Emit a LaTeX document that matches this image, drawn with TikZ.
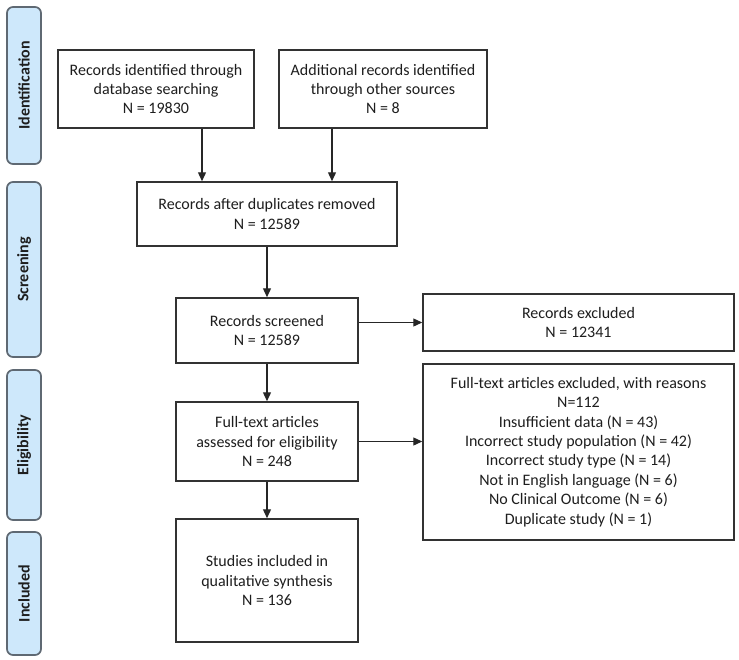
\documentclass[tikz,border=0pt]{standalone}
\usepackage{fontspec}
\setmainfont{Carlito}
\usetikzlibrary{arrows.meta}
\definecolor{phase}{RGB}{206,232,251}
\definecolor{phaseline}{RGB}{95,105,115}
\definecolor{boxline}{RGB}{50,50,50}
\definecolor{txt}{RGB}{30,30,30}
\tikzset{
  x=1pt,y=1pt,
  flowbox/.style={draw=boxline, line width=1.5pt, fill=white, align=center, inner sep=2pt,
    text=txt, font=\fontsize{16}{19.4}\selectfont},
  phasebox/.style={draw=phaseline, line width=1.7pt, fill=phase, rounded corners=6pt,
    rotate=90, minimum height=34pt, inner sep=0pt, text=txt,
    font=\fontsize{16}{18}\selectfont\bfseries},
  flowarrow/.style={draw=black!85, line width=1.3pt, -{Triangle[length=9pt,width=8pt]}}
}
\begin{document}
\begin{tikzpicture}
\useasboundingbox (0,0) rectangle (739,-659);
% phase labels
\node[phasebox, minimum width=157pt] (pid) at (24,-85.5) {Identification};
\node[phasebox, minimum width=175pt] (psc) at (24,-269.5) {Screening};
\node[phasebox, minimum width=150pt] (pel) at (24,-445) {Eligibility};
\node[phasebox, minimum width=123pt] (pin) at (24,-593.5) {Included};
% boxes
\node[flowbox, minimum width=196pt, minimum height=78pt] (db) at (156,-89)
  {Records identified through\\database searching\\N = 19830};
\node[flowbox, minimum width=208pt, minimum height=78pt] (other) at (383,-89)
  {Additional records identified\\through other sources\\N = 8};
\node[flowbox, minimum width=260pt, minimum height=64pt] (dup) at (267,-214)
  {Records after duplicates removed\\N = 12589};
\node[flowbox, minimum width=182pt, minimum height=65pt] (scr) at (267,-330.5)
  {Records screened\\N = 12589};
\node[flowbox, minimum width=311pt, minimum height=57pt] (exc) at (578.5,-322.5)
  {Records excluded\\N = 12341};
\node[flowbox, minimum width=182pt, minimum height=79pt] (full) at (267,-441.5)
  {Full-text articles\\assessed for eligibility\\N = 248};
\node[flowbox, minimum width=311pt, minimum height=176pt] (fexc) at (578.5,-452)
  {Full-text articles excluded, with reasons\\N=112\\Insufficient data (N = 43)\\Incorrect study population (N = 42)\\Incorrect study type (N = 14)\\Not in English language (N = 6)\\No Clinical Outcome (N = 6)\\Duplicate study (N = 1)};
\node[flowbox, minimum width=182pt, minimum height=123pt] (inc) at (267,-580.5)
  {Studies included in\\qualitative synthesis\\N = 136};
% connectors
\draw[flowarrow] (db.south -| 202,0) -- (dup.north -| 202,0);
\draw[flowarrow] (other.south -| 332,0) -- (dup.north -| 332,0);
\draw[flowarrow] (dup.south) -- (scr.north);
\draw[flowarrow] (scr.east |- exc.west) -- (exc.west);
\draw[flowarrow] (scr.south) -- (full.north);
\draw[flowarrow] (full.east) -- (full.east -| fexc.west);
\draw[flowarrow] (full.south) -- (inc.north);
\end{tikzpicture}
\end{document}
